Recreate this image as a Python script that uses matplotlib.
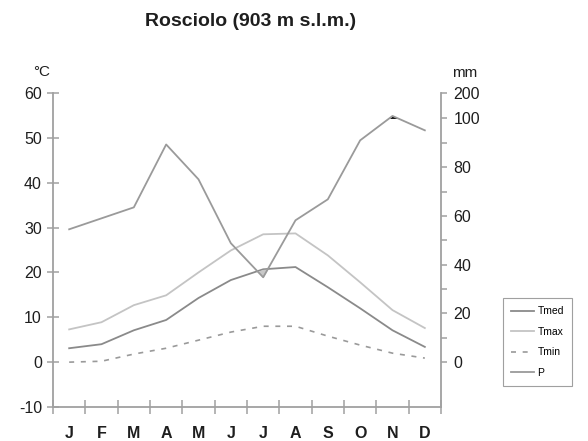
import matplotlib
matplotlib.use("Agg")
import matplotlib.pyplot as plt
import numpy as np

plt.rcParams['font.family'] = ['Liberation Sans', 'DejaVu Sans']

months = ['J', 'F', 'M', 'A', 'M', 'J', 'J', 'A', 'S', 'O', 'N', 'D']
tmed = [3.1, 4.0, 7.1, 9.4, 14.3, 18.3, 20.7, 21.2, 16.7, 12.0, 7.1, 3.4]
tmax = [7.3, 8.9, 12.7, 14.9, 20.0, 24.9, 28.5, 28.7, 23.8, 17.8, 11.6, 7.6]
tmin = [0.0, 0.2, 1.8, 3.1, 4.9, 6.7, 8.0, 8.0, 5.8, 3.8, 2.0, 0.9]
prec = [54.5, 59.0, 63.5, 89.3, 75.0, 48.8, 34.8, 58.2, 66.8, 91.0, 101.0, 95.1]

title = 'Rosciolo (903 m s.l.m.)'
t_ticks = [-10, 0, 10, 20, 30, 40, 50, 60]
p_ticks = [0, 20, 40, 60, 80, 100]

W, H = 588, 441
fig = plt.figure(figsize=(W / 100, H / 100), dpi=100)
ax = fig.add_axes([53 / W, 1 - 407 / H, (441 - 53) / W, (407 - 93) / H])
ax2 = ax.twinx()

x = np.arange(12) + 0.5
tlo, thi = -10, 60
k = 0.5434  # deg C per mm (visual scale)
plo, phi = tlo / k, thi / k

axis_c = '#a0a0a0'
text_c = '#1e1e1e'
ax.set_xlim(0, 12)
ax.set_ylim(tlo, thi)
ax2.set_ylim(plo, phi)

# lines
l_tmed, = ax.plot(x, tmed, color='#8a8a8a', lw=1.3, label='Tmed')
l_tmax, = ax.plot(x, tmax, color='#c4c4c4', lw=1.3, label='Tmax')
l_tmin, = ax.plot(x, tmin, color='#9a9a9a', lw=1.2, ls=(0, (3, 4)), label='Tmin')
l_p, = ax2.plot(x, prec, color='#9a9a9a', lw=1.3, label='P')

# dry period fill (P below Tmed)
xf = np.linspace(x[0], x[-1], 1200)
pf = np.interp(xf, x, prec)
tf = np.interp(xf, x, tmed) / k
ax2.fill_between(xf, pf, tf, where=pf < tf, color='#c8c8c8', lw=0)
# per-humid fill (P above 100 mm)
ax2.fill_between(xf, 100, pf, where=pf > 100, color='black', lw=0)

# spines
for a in (ax, ax2):
    a.spines['top'].set_visible(False)
    for s in ('left', 'right', 'bottom'):
        a.spines[s].set_color(axis_c)
        a.spines[s].set_linewidth(1.3)
ax.spines['right'].set_visible(False)
ax2.spines['left'].set_visible(False)
ax2.spines['bottom'].set_visible(False)

ax.set_yticks(t_ticks)
ax.set_yticklabels([str(v) for v in t_ticks])
ax.tick_params(axis='y', direction='inout', length=8, width=1.1, color=axis_c,
               labelsize=11.5, labelcolor=text_c, pad=4)
ax.set_xticks(np.arange(0, 13))
ax.set_xticklabels([''] * 13)
ax.set_xticks(x, minor=True)
ax.set_xticklabels(months, minor=True, fontweight='bold')
ax.tick_params(axis='x', which='major', direction='inout', length=10, width=1.1,
               color=axis_c)
ax.tick_params(axis='x', which='minor', length=0, labelsize=11.5,
               labelcolor=text_c, pad=14)

ax2.set_yticks(p_ticks + [phi])
ax2.set_yticklabels([str(v) for v in p_ticks] + ['200'])
ax2.set_yticks([10, 30, 50, 70, 90], minor=True)
ax2.tick_params(axis='y', which='both', direction='out', length=4, width=1.1,
                color=axis_c, labelsize=11.5, labelcolor=text_c, pad=5)

fig.text(42 / W, 1 - 72 / H, '°C', ha='center', va='center', fontsize=11,
         color=text_c)
fig.text(465 / W, 1 - 73 / H, 'mm', ha='center', va='center', fontsize=11,
         color=text_c)
fig.text(251 / W, 1 - 22 / H, title, ha='center', va='center', fontsize=14,
         fontweight='bold', color=text_c)

leg = fig.legend(handles=[l_tmed, l_tmax, l_tmin, l_p], loc='upper left',
                 bbox_to_anchor=(503 / W, 1 - 298 / H), fontsize=7.5,
                 frameon=True, fancybox=False, handlelength=2.2,
                 handletextpad=0.3, labelspacing=1.0, borderpad=0.8,
                 borderaxespad=0)
leg.get_frame().set_edgecolor('#888888')
leg.get_frame().set_linewidth(0.8)

fig.savefig('out.png', dpi=100)
